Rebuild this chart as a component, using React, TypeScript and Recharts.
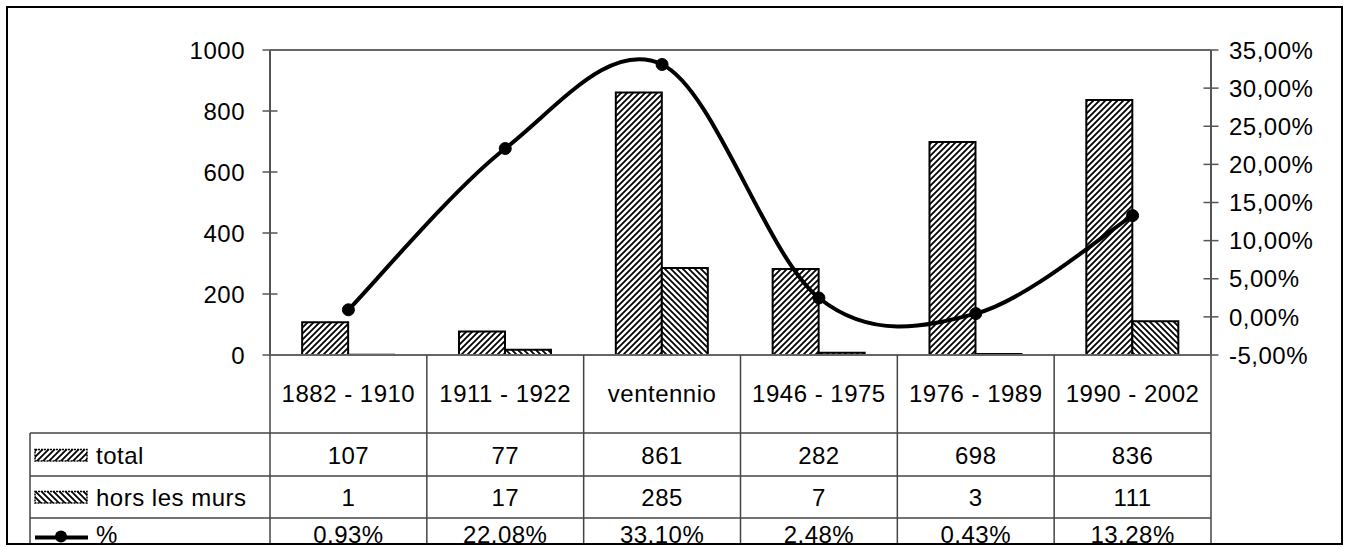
import React from "react";
import { ComposedChart, Bar, Line, XAxis, YAxis } from "recharts";

const periods = ["1882 - 1910", "1911 - 1922", "ventennio", "1946 - 1975", "1976 - 1989", "1990 - 2002"];
const total = [107, 77, 861, 282, 698, 836];
const horsLesMurs = [1, 17, 285, 7, 3, 111];
const pct = [0.0093, 0.2208, 0.331, 0.0248, 0.0043, 0.1328];
const leftTicks = [0, 200, 400, 600, 800, 1000];
const rightTicks = [-0.05, 0, 0.05, 0.1, 0.15, 0.2, 0.25, 0.3, 0.35];

const data = periods.map((p, i) => ({ cat: p, total: total[i], hors: horsLesMurs[i], pct: pct[i] }));

const W = 1347;
const H = 547;
const PLOT_L = 270;
const PLOT_R = 1211;
const PLOT_T = 50;
const PLOT_B = 355;
const FONT = "'Liberation Sans', Arial, sans-serif";
const FS = 24;

// excel-like smoothing (catmull-rom as bezier)
function excelSmooth(context: any) {
  let pts: number[][] = [];
  return {
    areaStart() {},
    areaEnd() {},
    lineStart() {
      pts = [];
    },
    point(x: number, y: number) {
      pts.push([+x, +y]);
    },
    lineEnd() {
      if (!pts.length) return;
      context.moveTo(pts[0][0], pts[0][1]);
      for (let i = 0; i < pts.length - 1; i++) {
        const p0 = pts[i - 1] || pts[i];
        const p1 = pts[i];
        const p2 = pts[i + 1];
        const p3 = pts[i + 2] || p2;
        context.bezierCurveTo(
          p1[0] + (p2[0] - p0[0]) / 6,
          p1[1] + (p2[1] - p0[1]) / 6,
          p2[0] - (p3[0] - p1[0]) / 6,
          p2[1] - (p3[1] - p1[1]) / 6,
          p2[0],
          p2[1]
        );
      }
    },
  };
}

const fmtRight = (v: number) => (v * 100).toFixed(2).replace(".", ",") + "%";

function LeftTick(props: any) {
  const { x, y, payload } = props;
  return (
    <g>
      <line x1={x - 7.5} x2={x + 7.5} y1={y} y2={y} stroke="#555" strokeWidth={1.5} />
      <text x={x - 25} y={y} dy="0.36em" textAnchor="end" fontSize={FS} fontFamily={FONT} fill="#000" letterSpacing={0.5}>
        {payload.value}
      </text>
    </g>
  );
}

function RightTick(props: any) {
  const { x, y, payload } = props;
  return (
    <g>
      <line x1={x - 7.5} x2={x + 7.5} y1={y} y2={y} stroke="#555" strokeWidth={1.5} />
      <text x={x + 18} y={y} dy="0.36em" textAnchor="start" fontSize={FS} fontFamily={FONT} fill="#000" letterSpacing={0.5}>
        {fmtRight(payload.value)}
      </text>
    </g>
  );
}

function Patterns() {
  return (
    <defs>
      <pattern id="hatchUp" patternUnits="userSpaceOnUse" width={6} height={6}>
        <rect width={6} height={6} fill="#fff" />
        <path d="M0,6 L6,0 M-1.5,1.5 L1.5,-1.5 M4.5,7.5 L7.5,4.5" stroke="#000" strokeWidth={1.8} />
      </pattern>
      <pattern id="hatchDown" patternUnits="userSpaceOnUse" width={6} height={6}>
        <rect width={6} height={6} fill="#fff" />
        <path d="M0,0 L6,6 M-1.5,4.5 L1.5,7.5 M4.5,-1.5 L7.5,1.5" stroke="#000" strokeWidth={1.8} />
      </pattern>
    </defs>
  );
}

function DataTable() {
  const cw = (PLOT_R - PLOT_L) / periods.length;
  const rows = [433, 476, 518];
  const txt = { fontSize: FS, fontFamily: FONT, fill: "#000", letterSpacing: 0.5 } as any;
  return (
    <svg width={W} height={H} style={{ position: "absolute", left: 0, top: 0, pointerEvents: "none" }}>
      <Patterns />
      <defs>
        <clipPath id="frameClip">
          <rect x={0} y={0} width={W} height={544} />
        </clipPath>
      </defs>
      {/* plot frame top + baseline */}
      <line x1={PLOT_L} x2={PLOT_R} y1={PLOT_T} y2={PLOT_T} stroke="#666" strokeWidth={2} />
      <line x1={PLOT_L} x2={PLOT_R} y1={PLOT_B} y2={PLOT_B} stroke="#666" strokeWidth={2} />
      {/* category column lines */}
      {periods.map((_, i) => (
        <line key={"v" + i} x1={PLOT_L + i * cw} x2={PLOT_L + i * cw} y1={PLOT_B} y2={545} stroke="#444" strokeWidth={1.5} />
      ))}
      <line x1={PLOT_R} x2={PLOT_R} y1={PLOT_B} y2={545} stroke="#444" strokeWidth={1.5} />
      <line x1={30} x2={30} y1={433} y2={545} stroke="#444" strokeWidth={1.5} />
      {rows.map((r) => (
        <line key={"h" + r} x1={30} x2={PLOT_R} y1={r} y2={r} stroke="#444" strokeWidth={1.5} />
      ))}
      {/* header labels */}
      {periods.map((p, i) => (
        <text key={"p" + i} x={PLOT_L + (i + 0.5) * cw} y={393} dy="0.36em" textAnchor="middle" {...txt}>
          {p}
        </text>
      ))}
      <g clipPath="url(#frameClip)">
        {/* row keys */}
        <rect x={35} y={449.5} width={52} height={11.5} fill="url(#hatchUp)" stroke="#000" strokeWidth={1.5} strokeDasharray="2 1" />
        <text x={96} y={455} dy="0.36em" {...txt}>total</text>
        <rect x={35} y={491.5} width={52} height={11.5} fill="url(#hatchDown)" stroke="#000" strokeWidth={1.5} strokeDasharray="2 1" />
        <text x={96} y={497} dy="0.36em" {...txt}>hors les murs</text>
        <line x1={35} x2={88} y1={537.5} y2={537.5} stroke="#000" strokeWidth={4} />
        <circle cx={61} cy={536.5} r={6} fill="#000" />
        <text x={96} y={534} dy="0.36em" {...txt}>%</text>
        {periods.map((_, i) => (
          <g key={"r" + i}>
            <text x={PLOT_L + (i + 0.5) * cw} y={455} dy="0.36em" textAnchor="middle" {...txt}>
              {total[i]}
            </text>
            <text x={PLOT_L + (i + 0.5) * cw} y={497} dy="0.36em" textAnchor="middle" {...txt}>
              {horsLesMurs[i]}
            </text>
            <text x={PLOT_L + (i + 0.5) * cw} y={534} dy="0.36em" textAnchor="middle" {...txt}>
              {(pct[i] * 100).toFixed(2) + "%"}
            </text>
          </g>
        ))}
      </g>
      {/* outer chart frame */}
      <rect x={7} y={7} width={1335} height={537} fill="none" stroke="#000" strokeWidth={2} />
    </svg>
  );
}

export default function App() {
  return (
    <div style={{ position: "absolute", left: 0, top: 0, width: W, height: H, background: "#fff", fontFamily: FONT }}>
      <ComposedChart
        width={W}
        height={H}
        data={data}
        margin={{ top: PLOT_T, right: 0, left: 0, bottom: H - PLOT_B }}
        barCategoryGap="20.5%"
        barGap={0}
      >
        <Patterns />
        <XAxis dataKey="cat" hide />
        <YAxis
          yAxisId="left"
          orientation="left"
          width={PLOT_L}
          domain={[0, 1000]}
          ticks={leftTicks}
          tickSize={0}
          tickMargin={0}
          tickLine={false}
          axisLine={{ stroke: "#555", strokeWidth: 2 }}
          tick={<LeftTick />}
          interval={0}
        />
        <YAxis
          yAxisId="right"
          orientation="right"
          width={W - PLOT_R}
          domain={[-0.05, 0.35]}
          ticks={rightTicks}
          tickSize={0}
          tickMargin={0}
          tickLine={false}
          axisLine={{ stroke: "#555", strokeWidth: 2 }}
          tick={<RightTick />}
          interval={0}
        />
        <Bar yAxisId="left" dataKey="total" fill="url(#hatchUp)" stroke="#000" strokeWidth={2} isAnimationActive={false} />
        <Bar yAxisId="left" dataKey="hors" fill="url(#hatchDown)" stroke="#000" strokeWidth={2} isAnimationActive={false} />
        <Line
          yAxisId="right"
          dataKey="pct"
          type={excelSmooth as any}
          stroke="#000"
          strokeWidth={4}
          dot={{ r: 6, fill: "#000", stroke: "#000", strokeWidth: 1 }}
          isAnimationActive={false}
        />
      </ComposedChart>
      <DataTable />
    </div>
  );
}
